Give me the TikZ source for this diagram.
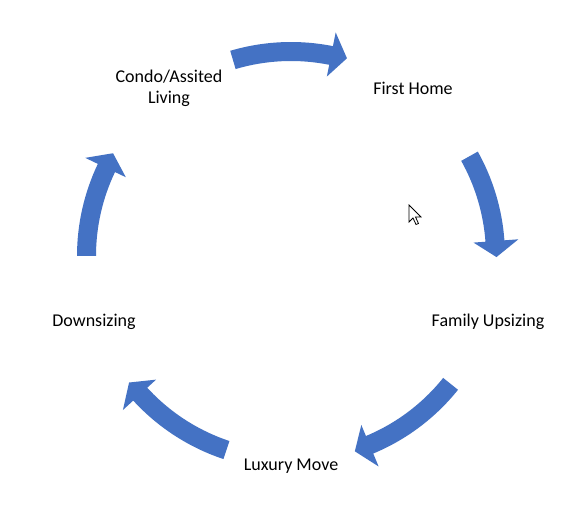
\documentclass[tikz,border=0pt]{standalone}
\usepackage{fontspec}
\setmainfont{Carlito}
\tikzset{
  lbl/.style={font=\fontsize{18}{21.5}\selectfont, align=center, text=black, inner sep=0pt},
  arrowfill/.style={fill={rgb,255:red,68;green,114;blue,196}},
  cursorshape/.style={fill=white, draw=black, line width=0.8pt, line join=miter}
}
% #1 tail angle, #2 tip angle (clockwise arrow around centre)
\newcommand\cycarrow[2]{%
  \fill[arrowfill, shift={(291,264)}]
    (#1:214pt) arc[start angle=#1, end angle={#2+4.5}, radius=214pt]
    -- ({#2+4.5}:228pt) -- (#2:205.5pt) -- ({#2+4.5}:183pt) -- ({#2+4.5}:195pt)
    arc[start angle={#2+4.5}, end angle=#1, radius=195pt] -- cycle;
}
\begin{document}
\begin{tikzpicture}[x=1pt,y=1pt]
\useasboundingbox[fill=white] (0,0) rectangle (587,520);
% labels
\node[lbl] (condo) at (169,431.5) {Condo/Assited\\Living};
\node[lbl] (first) at (413,432) {First Home};
\node[lbl] (family) at (488,198) {Family Upsizing};
\node[lbl] (luxury) at (291,54) {Luxury Move};
\node[lbl] (down) at (94,198) {Downsizing};
% arrows
\cycarrow{106.5}{74.2}
\cycarrow{29.2}{-0.3}
\cycarrow{-38.7}{-71.9}
\cycarrow{-108.4}{-142}
\cycarrow{180}{150}
% mouse cursor
\draw[cursorshape] (409,315) -- (409,298) -- (413,302) -- (416,295.5) -- (418.5,296.5) -- (415.5,303) -- (421,303) -- cycle;
\end{tikzpicture}
\end{document}
